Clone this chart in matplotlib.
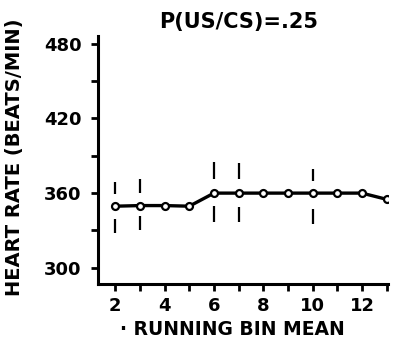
import matplotlib
matplotlib.use("Agg")
import matplotlib.pyplot as plt

# running bin mean and heart rate (beats/min)
bins = [2, 3, 4, 5, 6, 7, 8, 9, 10, 11, 12, 13]
heart_rate = [349.5, 350, 350, 349.5, 360, 360, 360, 360, 360, 360, 360, 355]

# dashed error bars: bins with bars, upper and lower dash extents
bar_bins = [2, 3, 6, 7, 10]
upper_lo = [359, 360, 371, 371, 370]
upper_hi = [369, 371, 385, 384, 379]
lower_lo = [328, 330, 337, 337, 335]
lower_hi = [339, 342, 350, 349, 347]

y_major = [300, 360, 420, 480]
y_minor = [330, 390, 450]
x_labeled = [2, 4, 6, 8, 10, 12]
x_minor = [3, 5, 7, 9, 11, 13]

fig = plt.figure(figsize=(3.97, 3.41), dpi=100)
ax = fig.add_axes([0.247, 0.167, 0.73, 0.727])

ax.plot(bins, heart_rate, color='black', lw=2.4, marker='o', ms=5,
        mfc='white', mec='black', mew=1.6, zorder=3)
ax.vlines(bar_bins, upper_lo, upper_hi, color='black', lw=1.6)
ax.vlines(bar_bins, lower_lo, lower_hi, color='black', lw=1.6)

ax.set_xlim(1.3, 13.05)
ax.set_ylim(287, 486)

for s in ['top', 'right']:
    ax.spines[s].set_visible(False)
for s in ['left', 'bottom']:
    ax.spines[s].set_linewidth(2.2)

font = dict(family='DejaVu Sans', weight='bold', size=13)
ax.set_yticks(y_major)
ax.set_yticklabels([str(v) for v in y_major], fontdict=font)
ax.set_yticks(y_minor, minor=True)
ax.set_xticks(x_labeled)
ax.set_xticklabels([str(v) for v in x_labeled], fontdict=font)
ax.set_xticks(x_minor, minor=True)
ax.tick_params(axis='both', which='both', direction='out', width=2, length=5, pad=7)
ax.tick_params(axis='x', pad=4)

ax.set_ylabel('HEART RATE (BEATS/MIN)', fontdict=dict(font, size=14))
ax.yaxis.set_label_coords(-0.255, 0.51)
ax.set_xlabel('· RUNNING BIN MEAN', fontdict=dict(font, size=13.5))
ax.xaxis.set_label_coords(0.462, -0.145)
fig.text(0.6, 0.935, 'P(US/CS)=.25', ha='center', va='center', **dict(font, size=15))

fig.savefig('out.png', dpi=100)
